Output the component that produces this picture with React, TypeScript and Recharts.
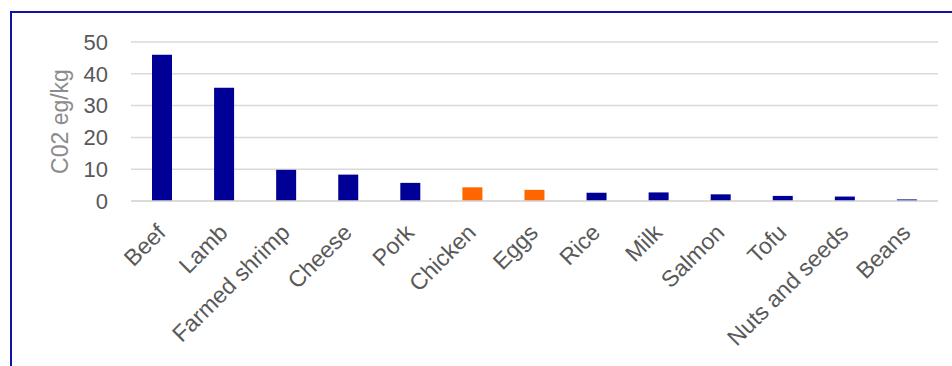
import React from 'react';
import { BarChart, Bar, XAxis, YAxis, CartesianGrid, Cell } from 'recharts';

const foods = ['Beef', 'Lamb', 'Farmed shrimp', 'Cheese', 'Pork', 'Chicken', 'Eggs', 'Rice', 'Milk', 'Salmon', 'Tofu', 'Nuts and seeds', 'Beans'];
const emissions = [46, 35.6, 9.8, 8.3, 5.7, 4.3, 3.5, 2.6, 2.7, 2.1, 1.6, 1.4, 0.5];
const highlighted = ['Chicken', 'Eggs'];
const yTicks = [0, 10, 20, 30, 40, 50];

const BLUE = '#000096';
const ORANGE = '#FF6600';
const FONT = '"Liberation Sans", Arial, sans-serif';

const data = foods.map((food, i) => ({ food, value: emissions[i] }));

const AngledTick = (props: any) => {
    const { x, y, payload } = props;
    const ax = x + 5;
    const ay = y + 33;
    return (
        <text
            x={ax}
            y={ay}
            textAnchor="end"
            fill="#595959"
            fontSize={23}
            fontFamily={FONT}
            transform={`rotate(-45, ${ax}, ${ay})`}
        >
            {payload.value}
        </text>
    );
};

export default function App() {
    return (
        <div style={{ position: 'absolute', left: 0, top: 0, width: 952, height: 366, background: '#fff', overflow: 'hidden' }}>
            {/* frame */}
            <div style={{ position: 'absolute', left: 10, top: 11, width: 960, height: 380, borderLeft: '2px solid #1212a6', borderTop: '2px solid #1212a6' }} />
            <div style={{ position: 'absolute', left: 0, top: 0 }}>
                <BarChart width={952} height={366} data={data} margin={{ top: 42, right: 14, bottom: 0, left: 0 }} barSize={20}>
                    <CartesianGrid vertical={false} stroke="#d9d9d9" strokeWidth={1.5} />
                    <XAxis
                        dataKey="food"
                        interval={0}
                        height={165}
                        tickSize={0}
                        tickMargin={0}
                        axisLine={{ stroke: '#d9d9d9', strokeWidth: 1.5 }}
                        tickLine={false}
                        tick={<AngledTick />}
                    />
                    <YAxis
                        domain={[0, 50]}
                        ticks={yTicks}
                        width={131}
                        tickSize={0}
                        tickMargin={23}
                        axisLine={false}
                        tickLine={false}
                        tick={{ fill: '#595959', fontSize: 22, fontFamily: FONT }}
                        label={{ value: 'C02 eg/kg', angle: -90, position: 'center', dx: -6, fill: '#8c8c8c', fontSize: 23, fontFamily: FONT }}
                    />
                    <Bar dataKey="value" isAnimationActive={false}>
                        {data.map((d, i) => (
                            <Cell key={`cell-${i}`} fill={highlighted.includes(d.food) ? ORANGE : BLUE} />
                        ))}
                    </Bar>
                </BarChart>
            </div>
        </div>
    );
}
